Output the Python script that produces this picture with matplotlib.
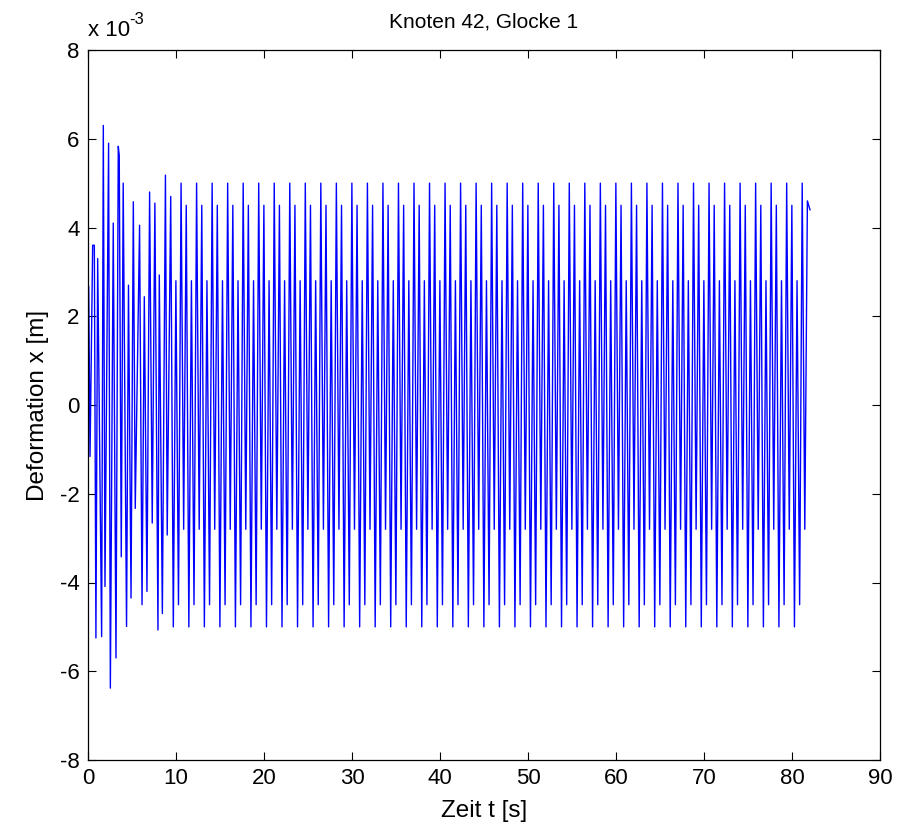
import numpy as np
import matplotlib
matplotlib.use("Agg")
import matplotlib.pyplot as plt

plt.rcParams['font.family'] = ['Liberation Sans', 'DejaVu Sans']
plt.rcParams['axes.unicode_minus'] = False

# start-up transient (deformation in 1e-3 m), read vertex by vertex
t_transient = [0.08, 0.23, 0.53, 0.72, 0.90, 1.10, 1.55, 1.74, 1.93, 2.34,
               2.54, 2.87, 3.18, 3.44, 3.55, 3.78, 4.00, 4.38, 4.60, 4.89,
               5.15, 5.37, 5.86, 6.14, 6.40, 6.70, 7.00, 7.30, 7.60, 7.95,
               8.10, 8.45, 8.80, 9.00, 9.40]
x_transient = [2.66, -1.16, 3.60, 3.60, -5.25, 3.30, -5.22, 6.30, -4.09, 5.90,
               -6.38, 4.10, -5.70, 5.83, 5.63, -3.42, 5.00, -4.99, 2.70, -4.35,
               4.58, -2.33, 4.05, -4.50, 2.44, -4.20, 4.80, -2.66, 4.55, -5.07,
               2.93, -4.70, 5.18, -2.93, 4.70]

# steady state, constant sample step after the transient
dt = 0.2941
x_steady = [
    -5.0, 2.8, -4.5,
    5.0, -2.8, 4.5, -5.0, 2.8, -4.5,
    5.0, -2.8, 4.5, -5.0, 2.8, -4.5,
    5.0, -2.8, 4.5, -5.0, 2.8, -4.5,
    5.0, -2.8, 4.5, -5.0, 2.8, -4.5,
    5.0, -2.8, 4.5, -5.0, 2.8, -4.5,
    5.0, -2.8, 4.5, -5.0, 2.8, -4.5,
    5.0, -2.8, 4.5, -5.0, 2.8, -4.5,
    5.0, -2.8, 4.5, -5.0, 2.8, -4.5,
    5.0, -2.8, 4.5, -5.0, 2.8, -4.5,
    5.0, -2.8, 4.5, -5.0, 2.8, -4.5,
    5.0, -2.8, 4.5, -5.0, 2.8, -4.5,
    5.0, -2.8, 4.5, -5.0, 2.8, -4.5,
    5.0, -2.8, 4.5, -5.0, 2.8, -4.5,
    5.0, -2.8, 4.5, -5.0, 2.8, -4.5,
    5.0, -2.8, 4.5, -5.0, 2.8, -4.5,
    5.0, -2.8, 4.5, -5.0, 2.8, -4.5,
    5.0, -2.8, 4.5, -5.0, 2.8, -4.5,
    5.0, -2.8, 4.5, -5.0, 2.8, -4.5,
    5.0, -2.8, 4.5, -5.0, 2.8, -4.5,
    5.0, -2.8, 4.5, -5.0, 2.8, -4.5,
    5.0, -2.8, 4.5, -5.0, 2.8, -4.5,
    5.0, -2.8, 4.5, -5.0, 2.8, -4.5,
    5.0, -2.8, 4.5, -5.0, 2.8, -4.5,
    5.0, -2.8, 4.5, -5.0, 2.8, -4.5,
    5.0, -2.8, 4.5, -5.0, 2.8, -4.5,
    5.0, -2.8, 4.5, -5.0, 2.8, -4.5,
    5.0, -2.8, 4.5, -5.0, 2.8, -4.5,
    5.0, -2.8, 4.5, -5.0, 2.8, -4.5,
    5.0, -2.8, 4.5, -5.0, 2.8, -4.5,
    5.0, -2.8, 4.5, -5.0, 2.8, -4.5,
    5.0, -2.8, 4.5, -5.0, 2.8, -4.5,
    5.0, -2.8, 4.5, -5.0, 2.8, -4.5,
    5.0, -2.8, 4.5, -5.0, 2.8, -4.5,
    5.0, -2.8, 4.5, -5.0, 2.8, -4.5,
    5.0, -2.8, 4.5, -5.0, 2.8, -4.5,
    5.0, -2.8, 4.5, -5.0, 2.8, -4.5,
    5.0, -2.8, 4.5, -5.0, 2.8, -4.5,
    5.0, -2.8, 4.5, -5.0, 2.8, -4.5,
    5.0, -2.8, 4.5, -5.0, 2.8, -4.5,
    5.0, -2.8, 4.5, -5.0, 2.8, -4.5,
    5.0, -2.8, 4.6, 4.4,
]

xticks = np.arange(0, 91, 10)
yticks = np.arange(-8, 9, 2)

t_steady = t_transient[-1] + dt * np.arange(1, len(x_steady) + 1)
t = np.concatenate([t_transient, t_steady])
x = np.concatenate([x_transient, x_steady])

fig = plt.figure(figsize=(9.08, 8.32), dpi=100)
ax = fig.add_axes([88 / 908, 72 / 832, 792 / 908, 710 / 832])

ax.plot(t, x, color='#0000ff', linewidth=1.0)

ax.set_xlim(0, 90)
ax.set_ylim(-8, 8)
ax.set_xticks(xticks)
ax.set_yticks(yticks)
ax.tick_params(direction='in', top=True, right=True, length=6, width=0.8,
               labelsize=16, pad=6)
for s in ax.spines.values():
    s.set_linewidth(0.9)

ax.set_xlabel('Zeit t [s]', fontsize=17.5, labelpad=8)
ax.set_ylabel('Deformation x [m]', fontsize=17.5, labelpad=8)
ax.set_title('Knoten 42, Glocke 1', fontsize=15, pad=16)
# MATLAB-style exponent label above the y axis
ax.text(0.0, 1.012, 'x 10', transform=ax.transAxes, fontsize=16,
        ha='left', va='bottom')
ax.text(0.0525, 1.033, '-3', transform=ax.transAxes, fontsize=12,
        ha='left', va='bottom')

fig.savefig('out.png', dpi=100)
